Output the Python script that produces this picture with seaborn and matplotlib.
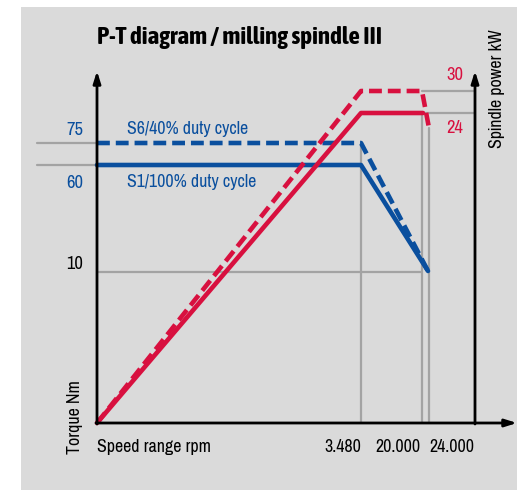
import matplotlib
matplotlib.use("Agg")
import matplotlib.pyplot as plt
from matplotlib import font_manager
import pandas as pd
import seaborn as sns
from matplotlib.patches import Rectangle

sns.set_style("white")

# pick a condensed face (the original uses a condensed sans)
faces = font_manager.fontManager.ttflist
narrow = sorted({f.name for f in faces if any(k in f.name for k in ("Condensed", "Narrow"))},
                key=len)
base_font = narrow[:1] + ["DejaVu Sans"]
bold_faces = [f for f in faces if f.name in narrow and f.weight in (700, "bold")]
bold_faces += [f for f in faces if f.name in narrow and "Bold" in f.name and "Extra" not in f.name
               and "Semi" not in f.name]
title_font = ([bold_faces[0].name] if bold_faces else []) + ["DejaVu Sans"]

plt.rcParams["font.family"] = base_font
plt.rcParams["text.color"] = "black"

# Schematic diagram: positions are in diagram units (not to scale), origin at 0/0
speed_labels = ["3.480", "20.000", "24.000"]
speed_pos = [264, 325, 332]
torque_labels = ["75", "60", "10"]
torque_pos = [280, 258, 151]
power_labels = ["30", "24"]
power_pos = [332, 310]
power_end = 295
axis_right = 378

# curves (x, y) in diagram units
s6_torque_x = [0, 264, 331]
s6_torque_y = [280, 280, 152]
s1_torque_x = [0, 264, 331]
s1_torque_y = [258, 258, 152]
s6_power_x = [0, 264, 325, 332]
s6_power_y = [0, 332, 332, 295]
s1_power_x = [0, 264, 326]
s1_power_y = [0, 310, 310]

BLUE = "#0a4f9e"
RED = "#d8103f"
GRID = "#a3a3a3"
BG = "#dadada"

curves = pd.concat([
    pd.DataFrame({"x": s6_torque_x, "y": s6_torque_y, "curve": "S6 torque"}),
    pd.DataFrame({"x": s1_torque_x, "y": s1_torque_y, "curve": "S1 torque"}),
    pd.DataFrame({"x": s6_power_x, "y": s6_power_y, "curve": "S6 power"}),
    pd.DataFrame({"x": s1_power_x, "y": s1_power_y, "curve": "S1 power"}),
])

fig = plt.figure(figsize=(5.17, 4.90), dpi=100)
fig.patch.set_facecolor("white")

ax = fig.add_axes([0, 0, 1, 1])
ax.set_facecolor("none")
ax.set_xlim(-97, 420)
ax.set_ylim(-67, 423)
ax.axis("off")
ax.add_patch(Rectangle((21 / 517, 0), 1, 1 - 7 / 490, transform=fig.transFigure,
                       facecolor=BG, edgecolor="none", zorder=0, clip_on=False))

# gray reference lines
for yp in torque_pos[:2]:
    ax.plot([-60, 0], [yp, yp], color=GRID, lw=1.6, zorder=1)
ax.plot([0, speed_pos[1]], [torque_pos[2]] * 2, color=GRID, lw=1.6, zorder=1)
ax.plot([speed_pos[0]] * 2, [0, torque_pos[0]], color=GRID, lw=1.6, zorder=1)
ax.plot([speed_pos[1]] * 2, [0, power_pos[1]], color=GRID, lw=1.6, zorder=1)
ax.plot([speed_pos[2]] * 2, [0, power_end], color=GRID, lw=1.6, zorder=1)
ax.plot([speed_pos[1], axis_right], [power_pos[0]] * 2, color=GRID, lw=1.6, zorder=1)
ax.plot([speed_pos[1], axis_right], [power_pos[1]] * 2, color=GRID, lw=1.6, zorder=1)

# curves
sns.lineplot(data=curves, x="x", y="y", hue="curve", style="curve", sort=False,
             palette={"S6 torque": BLUE, "S1 torque": BLUE, "S6 power": RED, "S1 power": RED},
             dashes={"S6 torque": (2.8, 1.3), "S1 torque": "", "S6 power": (2.8, 1.3), "S1 power": ""},
             linewidth=3.3, legend=False, ax=ax, zorder=3)
ax.set_xlabel("")
ax.set_ylabel("")

# axes with arrows
arrow = dict(arrowstyle="-|>,head_length=0.7,head_width=0.22", color="black", lw=2,
             shrinkA=0, shrinkB=0)
ax.annotate("", xy=(0, 352), xytext=(0, -1), arrowprops=arrow, zorder=4)
ax.annotate("", xy=(axis_right, 352), xytext=(axis_right, -1), arrowprops=arrow, zorder=4)
ax.annotate("", xy=(420, 0), xytext=(-1, 0), arrowprops=arrow, zorder=4, annotation_clip=False)

fs = 14
ax.text(0, 385, "P-T diagram / milling spindle III", fontsize=18, fontweight="bold",
        family=title_font, ha="left", va="center")

label_dy = [13, -18, 8]
for lab, yp, dy in zip(torque_labels, torque_pos, label_dy):
    col = BLUE if lab != "10" else "black"
    ax.text(-14, yp + dy, lab, color=col, fontsize=fs + 0.5, ha="right", va="center")
ax.text(30, 294, "S6/40% duty cycle", color=BLUE, fontsize=fs, ha="left", va="center")
ax.text(30, 241, "S1/100% duty cycle", color=BLUE, fontsize=fs, ha="left", va="center")

power_dy = [16, -15]
for lab, yp, dy in zip(power_labels, power_pos, power_dy):
    ax.text(358, yp + dy, lab, color=RED, fontsize=fs + 0.5, ha="center", va="center")

ax.text(400, 275, "Spindle power kW", fontsize=fs, rotation=90, rotation_mode="anchor",
        ha="left", va="center")
ax.text(-22, -31, "Torque Nm", fontsize=fs, rotation=90, rotation_mode="anchor",
        ha="left", va="center")
ax.text(0, -24, "Speed range rpm", fontsize=fs, ha="left", va="center")
ax.text(speed_pos[0], -24, speed_labels[0], fontsize=fs, ha="right", va="center")
ax.text(speed_pos[1] - 1, -24, speed_labels[1], fontsize=fs, ha="right", va="center")
ax.text(axis_right - 1, -24, speed_labels[2], fontsize=fs, ha="right", va="center")

fig.savefig("out.png", dpi=100, facecolor="white")
